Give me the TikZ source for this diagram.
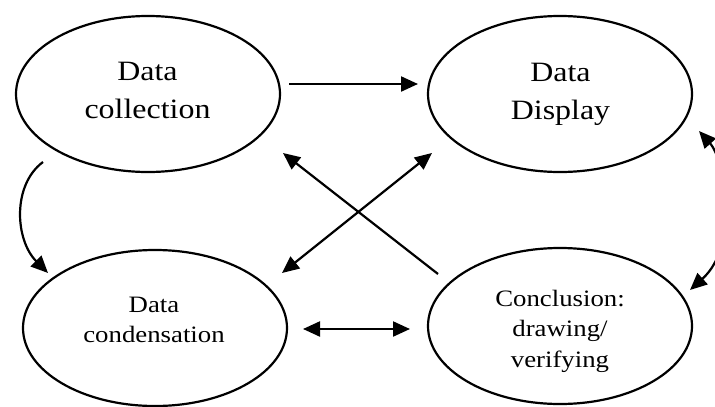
\documentclass[tikz,border=0pt]{standalone}
\usepackage{fontspec}
\newfontfamily\tnr[FakeStretch=1.14]{Liberation Serif}
\usetikzlibrary{arrows.meta,shapes.geometric}
\begin{document}
\begin{tikzpicture}[x=1pt,y=-1pt,
  oval/.style={draw,ellipse,line width=2.2pt,inner sep=0pt,minimum width=264pt,minimum height=156pt},
  bigtxt/.style={align=center,inner sep=0pt,font=\tnr\fontsize{28}{38}\selectfont},
  smalltxt/.style={align=center,inner sep=0pt,font=\tnr\fontsize{23.5}{30.5}\selectfont},
  arr/.style={line width=2.2pt,-{Triangle[length=17pt,width=15pt]}},
  darr/.style={line width=2.2pt,{Triangle[length=17pt,width=15pt]}-{Triangle[length=17pt,width=15pt]}}]
\useasboundingbox[clip] (0,0) rectangle (715,407);
\fill[white] (0,0) rectangle (715,407);
% ovals
\node[oval] (collect) at (148,94) {};
\node[oval] (display) at (560,94) {};
\node[oval] (condense) at (155,328) {};
\node[oval] (concl) at (560,326) {};
% texts
\node[bigtxt] (collectT) at (147.5,90) {Data\\collection};
\node[bigtxt] (displayT) at (560.5,94.5) {Data\\Display};
\node[smalltxt] (condenseT) at (154,320) {Data\\condensation};
\node[smalltxt] (conclT) at (560,331) {Conclusion:\\drawing/\\verifying};
% connectors
\draw[arr] ([shift={(141,-10)}]collect.center) -- ([shift={(-142,-10)}]display.center);
\draw[arr] ([shift={(-105,68)}]collect.center) .. controls (12,185) and (15,240) .. ([shift={(-107,-55)}]condense.center);
\draw[arr] ([shift={(-122,-52)}]concl.center) -- ([shift={(135,59)}]collect.center);
\draw[darr] ([shift={(127,-55)}]condense.center) -- ([shift={(-128,59)}]display.center);
\draw[darr] ([shift={(148,1)}]condense.center) -- ([shift={(-150,3)}]concl.center);
\draw[darr] ([shift={(139,37)}]display.center) .. controls (725,160) and (740,245) .. ([shift={(130,-36)}]concl.center);
\end{tikzpicture}
\end{document}
